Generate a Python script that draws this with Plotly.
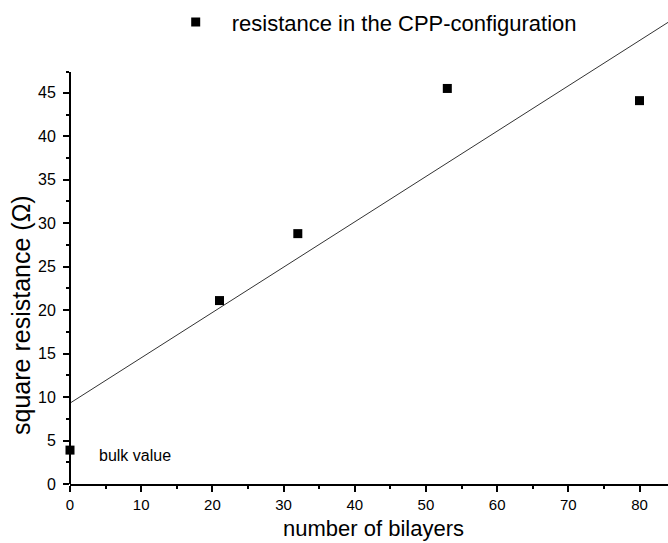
import plotly.graph_objects as go

# data
bilayers = [0, 21, 32, 53, 80]
resistance = [3.9, 21.1, 28.8, 45.5, 44.1]
fit_x = [0, 84]
fit_y = [9.3, 53.1]
x_ticks = [0, 10, 20, 30, 40, 50, 60, 70, 80]
x_minor = [5, 15, 25, 35, 45, 55, 65, 75]
y_ticks = [0, 5, 10, 15, 20, 25, 30, 35, 40, 45]
y_minor = [2.5, 7.5, 12.5, 17.5, 22.5, 27.5, 32.5, 37.5, 42.5, 47.4]
y_axis_top = 47.4

FONT = "Liberation Sans, Arial, Helvetica, sans-serif"

fig = go.Figure()
fig.add_trace(go.Scatter(
    x=fit_x, y=fit_y, mode="lines",
    line=dict(color="#333333", width=1), showlegend=False, hoverinfo="skip"))
fig.add_trace(go.Scatter(
    x=bilayers, y=resistance, mode="markers",
    marker=dict(symbol="square", size=9, color="black"),
    name="resistance in the CPP-configuration", cliponaxis=False))

fig.update_layout(
    width=668, height=543,
    margin=dict(l=70, r=0, t=5, b=59),
    paper_bgcolor="white", plot_bgcolor="white",
    font=dict(family=FONT, color="black"),
    legend=dict(x=0.150, y=1.008, xanchor="left", yanchor="top",
                itemwidth=62,
                font=dict(size=22, family=FONT), bgcolor="rgba(0,0,0,0)"),
    xaxis=dict(range=[0, 84], showgrid=False, zeroline=False,
               showline=True, linecolor="black", linewidth=2,
               ticks="outside", tickvals=x_ticks, ticklen=6, tickwidth=2,
               tickcolor="black", tickfont=dict(size=15),
               minor=dict(tickvals=x_minor, ticks="outside", ticklen=3,
                          tickwidth=1.5, tickcolor="black")),
    yaxis=dict(range=[0, 55.1], showgrid=False, zeroline=False,
               showline=False,
               ticks="outside", tickvals=y_ticks, ticklen=6, tickwidth=2,
               tickcolor="black", tickfont=dict(size=16),
               ticklabelstandoff=4,
               minor=dict(tickvals=y_minor, ticks="outside", ticklen=3,
                          tickwidth=1.5, tickcolor="black")),
    shapes=[dict(type="line", xref="paper", yref="y", x0=0, x1=0,
                 y0=0, y1=y_axis_top, line=dict(color="black", width=2))],
    annotations=[
        dict(text="square resistance (Ω)", xref="paper", yref="paper",
             x=-0.082, y=(484 - 315) / 479, textangle=-90, showarrow=False,
             font=dict(size=25, family=FONT), xanchor="center", yanchor="middle"),
        dict(text="number of bilayers", xref="paper", yref="paper",
             x=(373 - 70) / 598, y=-(528 - 484) / 479, showarrow=False,
             font=dict(size=22, family=FONT), xanchor="center", yanchor="middle"),
        dict(text="bulk value", xref="paper", yref="paper",
             x=(97 - 70) / 598, y=(484 - 455) / 479, showarrow=False,
             font=dict(size=16, family=FONT), xanchor="left", yanchor="middle"),
    ],
)

fig.write_html("out.html")
